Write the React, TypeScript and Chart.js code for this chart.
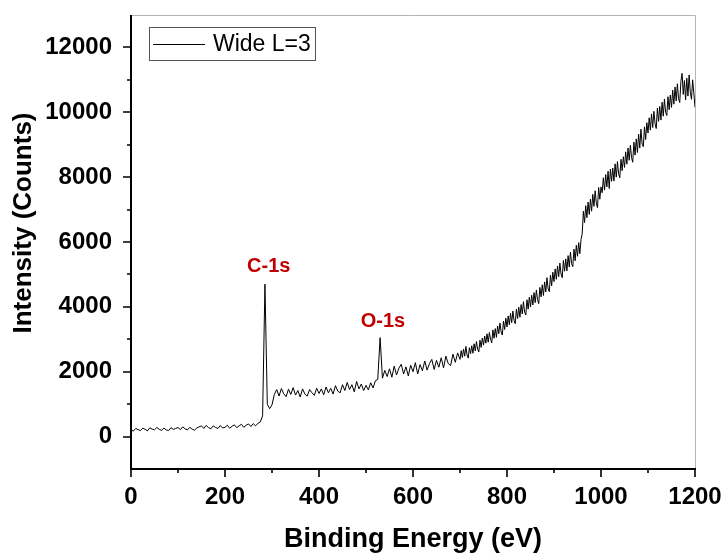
import React, { useEffect, useRef } from 'react';
import { Chart, registerables } from 'chart.js';

Chart.register(...registerables);

// ---------- data ----------
const SERIES_LABEL = 'Wide L=3';

const ENERGY = [
  0, 5, 10, 15, 20, 25, 30, 35, 40, 45,
  50, 55, 60, 65, 70, 75, 80, 85, 90, 95,
  100, 105, 110, 115, 120, 125, 130, 135, 140, 145,
  150, 155, 160, 165, 170, 175, 180, 185, 190, 195,
  200, 205, 210, 215, 220, 225, 230, 235, 240, 245,
  250, 255, 260, 265, 270, 275, 280, 285, 290, 295,
  300, 305, 310, 315, 320, 325, 330, 335, 340, 345,
  350, 355, 360, 365, 370, 375, 380, 385, 390, 395,
  400, 405, 410, 415, 420, 425, 430, 435, 440, 445,
  450, 455, 460, 465, 470, 475, 480, 485, 490, 495,
  500, 505, 510, 515, 520, 525, 530, 535, 540, 545,
  550, 555, 560, 565, 570, 575, 580, 585, 590, 595,
  600, 605, 610, 615, 620, 625, 630, 635, 640, 645,
  650, 655, 660, 665, 670, 675, 680, 685, 690, 695,
  700, 702.5, 705, 707.5, 710, 712.5, 715, 717.5, 720, 722.5,
  725, 727.5, 730, 732.5, 735, 737.5, 740, 742.5, 745, 747.5,
  750, 752.5, 755, 757.5, 760, 762.5, 765, 767.5, 770, 772.5,
  775, 777.5, 780, 782.5, 785, 787.5, 790, 792.5, 795, 797.5,
  800, 802.5, 805, 807.5, 810, 812.5, 815, 817.5, 820, 822.5,
  825, 827.5, 830, 832.5, 835, 837.5, 840, 842.5, 845, 847.5,
  850, 852.5, 855, 857.5, 860, 862.5, 865, 867.5, 870, 872.5,
  875, 877.5, 880, 882.5, 885, 887.5, 890, 892.5, 895, 897.5,
  900, 902.5, 905, 907.5, 910, 912.5, 915, 917.5, 920, 922.5,
  925, 927.5, 930, 932.5, 935, 937.5, 940, 942.5, 945, 947.5,
  950, 952.5, 955, 957.5, 960, 962.5, 965, 967.5, 970, 972.5,
  975, 977.5, 980, 982.5, 985, 987.5, 990, 992.5, 995, 997.5,
  1000, 1002.5, 1005, 1007.5, 1010, 1012.5, 1015, 1017.5, 1020, 1022.5,
  1025, 1027.5, 1030, 1032.5, 1035, 1037.5, 1040, 1042.5, 1045, 1047.5,
  1050, 1052.5, 1055, 1057.5, 1060, 1062.5, 1065, 1067.5, 1070, 1072.5,
  1075, 1077.5, 1080, 1082.5, 1085, 1087.5, 1090, 1092.5, 1095, 1097.5,
  1100, 1102.5, 1105, 1107.5, 1110, 1112.5, 1115, 1117.5, 1120, 1122.5,
  1125, 1127.5, 1130, 1132.5, 1135, 1137.5, 1140, 1142.5, 1145, 1147.5,
  1150, 1152.5, 1155, 1157.5, 1160, 1162.5, 1165, 1167.5, 1170, 1172.5,
  1175, 1177.5, 1180, 1182.5, 1185, 1187.5, 1190, 1192.5, 1195, 1197.5,
  1200,
];

const INTENSITY = [
  200, 170, 250, 215, 185, 260, 225, 175, 270, 230,
  210, 280, 225, 190, 265, 205, 185, 275, 220, 250,
  280, 215, 300, 240, 205, 285, 230, 195, 265, 300,
  330, 250, 345, 275, 240, 330, 280, 250, 340, 265,
  285, 350, 255, 320, 360, 275, 330, 380, 285, 350,
  390, 310, 400, 330, 410, 450, 640, 4700, 1000, 860,
  980, 1300, 1450, 1250, 1480, 1320, 1230, 1460, 1300, 1510,
  1280, 1420, 1220, 1470, 1310, 1250, 1450, 1350, 1270, 1490,
  1330, 1470, 1290, 1530, 1350, 1490, 1310, 1570, 1400, 1350,
  1600, 1420, 1670, 1450, 1600, 1380, 1700, 1470, 1620, 1420,
  1580, 1440, 1660, 1500, 1720, 1760, 3050, 1800, 2040, 1850,
  2090, 1830, 2170, 1900, 2110, 2230, 1930, 2150, 1870, 2200,
  2000, 2280, 1930, 2220, 2030, 2330, 2050, 2250, 2380, 2070,
  2350, 2140, 2430, 2120, 2480, 2250, 2190, 2540, 2290, 2580,
  2380, 2650, 2440, 2700, 2480, 2780, 2520, 2420, 2740, 2560,
  2800, 2570, 2860, 2640, 2930, 2700, 2610, 2970, 2750, 3040,
  2820, 3100, 2880, 3170, 2910, 3210, 3000, 2890, 3290, 3030,
  3330, 3060, 3410, 3170, 3500, 3230, 3130, 3560, 3300, 3650,
  3380, 3720, 3450, 3800, 3510, 3870, 3580, 3480, 3930, 3640,
  3990, 3680, 4070, 3780, 4160, 3840, 3750, 4220, 3930, 4300,
  4000, 4360, 4060, 4440, 4130, 4520, 4220, 4100, 4600, 4310,
  4680, 4350, 4770, 4460, 4900, 4550, 4470, 4980, 4650, 5070,
  4780, 5170, 4850, 5260, 4930, 5350, 5010, 4900, 5430, 5100,
  5480, 5110, 5580, 5230, 5690, 5330, 5240, 5780, 5420, 5900,
  5560, 5980, 5640, 6080, 6250, 6950, 6600, 7120, 6750, 7230,
  6850, 7320, 6950, 7470, 7100, 7580, 7200, 7060, 7680, 7320,
  7700, 7520, 7980, 7600, 8080, 7700, 8180, 7650, 8250, 7870,
  8280, 7880, 8410, 8000, 8480, 8100, 7980, 8550, 8200, 8630,
  8300, 8780, 8400, 8900, 8520, 8980, 8600, 8460, 9080, 8680,
  9180, 8760, 9330, 8900, 9480, 9020, 8940, 9550, 9160, 9680,
  9360, 9830, 9450, 9950, 9530, 10030, 9650, 9500, 10130, 9720,
  10180, 9760, 10310, 9880, 10410, 10000, 9900, 10480, 10080, 10530,
  10150, 10680, 10250, 10780, 10350, 10880, 10420, 10300, 10950, 11200,
  10550, 10980, 10380, 11050, 10500, 11150, 10620, 10400, 11000, 10600,
  10150,
];

const X_TICKS = [0, 200, 400, 600, 800, 1000, 1200];
const X_MINOR = [100, 300, 500, 700, 900, 1100];
const Y_TICKS = [0, 2000, 4000, 6000, 8000, 10000, 12000];
const Y_MINOR = [1000, 3000, 5000, 7000, 9000, 11000];
const X_RANGE = [0, 1200];
const Y_RANGE = [-1000, 13000];

const PEAK_LABELS = ['C-1s', 'O-1s'];
const PEAK_LABEL_X = [293, 536];
const PEAK_LABEL_Y = [5250, 3560];

const X_TITLE = 'Binding Energy (eV)';
const Y_TITLE = 'Intensity (Counts)';

const FONT = "'Liberation Sans', Arial, sans-serif";

const decorPlugin = {
  id: 'decor',
  afterDraw(chart: any) {
    const { ctx, chartArea } = chart;
    const xs = chart.scales.x;
    const ys = chart.scales.y;
    const { left, right, top, bottom } = chartArea;
    ctx.save();

    // top & right frame (light gray)
    ctx.strokeStyle = '#b4b4b4';
    ctx.lineWidth = 1;
    ctx.beginPath();
    ctx.moveTo(left, top + 0.5);
    ctx.lineTo(right + 0.5, top + 0.5);
    ctx.lineTo(right + 0.5, bottom);
    ctx.stroke();

    // left & bottom axes (black, thick)
    ctx.strokeStyle = '#000';
    ctx.lineWidth = 2;
    ctx.beginPath();
    ctx.moveTo(left, top);
    ctx.lineTo(left, bottom);
    ctx.lineTo(right + 1, bottom);
    ctx.stroke();

    // ticks
    ctx.lineWidth = 1.6;
    ctx.beginPath();
    X_TICKS.forEach((v) => {
      const px = Math.round(xs.getPixelForValue(v));
      ctx.moveTo(px, bottom);
      ctx.lineTo(px, bottom + 8);
    });
    X_MINOR.forEach((v) => {
      const px = Math.round(xs.getPixelForValue(v));
      ctx.moveTo(px, bottom);
      ctx.lineTo(px, bottom + 4);
    });
    Y_TICKS.forEach((v) => {
      const py = Math.round(ys.getPixelForValue(v));
      ctx.moveTo(left, py);
      ctx.lineTo(left - 8, py);
    });
    Y_MINOR.forEach((v) => {
      const py = Math.round(ys.getPixelForValue(v));
      ctx.moveTo(left, py);
      ctx.lineTo(left - 4, py);
    });
    ctx.stroke();

    // legend
    ctx.strokeStyle = '#555';
    ctx.lineWidth = 1;
    ctx.strokeRect(149.5, 27.5, 166, 33);
    ctx.strokeStyle = '#000';
    ctx.beginPath();
    ctx.moveTo(153, 44.5);
    ctx.lineTo(205, 44.5);
    ctx.stroke();
    ctx.fillStyle = '#000';
    ctx.font = `23px ${FONT}`;
    ctx.textAlign = 'left';
    ctx.textBaseline = 'middle';
    ctx.fillText(chart.data.datasets[0].label, 213, 45);

    // peak labels
    ctx.fillStyle = '#c00000';
    ctx.font = `bold 20px ${FONT}`;
    ctx.textAlign = 'center';
    ctx.textBaseline = 'middle';
    PEAK_LABELS.forEach((t, i) => {
      ctx.fillText(t, xs.getPixelForValue(PEAK_LABEL_X[i]), ys.getPixelForValue(PEAK_LABEL_Y[i]));
    });

    // axis titles
    ctx.fillStyle = '#000';
    ctx.font = `bold 27px ${FONT}`;
    ctx.textAlign = 'center';
    ctx.textBaseline = 'alphabetic';
    ctx.fillText(X_TITLE, (left + right) / 2, 547);
    ctx.translate(31, 223);
    ctx.rotate(-Math.PI / 2);
    ctx.font = `bold 26px ${FONT}`;
    ctx.fillText(Y_TITLE, 0, 0);

    ctx.restore();
  },
};

const zeroPad = (s: any) => {
  s.paddingTop = 0;
  s.paddingBottom = 0;
  s.paddingLeft = 0;
  s.paddingRight = 0;
};

export default function App() {
  const ref = useRef<HTMLCanvasElement | null>(null);

  useEffect(() => {
    if (!ref.current) return;
    const points = ENERGY.map((e, i) => ({ x: e, y: INTENSITY[i] }));
    const chart = new Chart(ref.current, {
      type: 'line',
      data: {
        datasets: [
          {
            label: SERIES_LABEL,
            data: points,
            borderColor: '#000',
            borderWidth: 1,
            pointRadius: 0,
            tension: 0,
            fill: false,
          },
        ],
      },
      options: {
        responsive: false,
        animation: false,
        devicePixelRatio: 1,
        layout: { padding: { left: 0, top: 15, right: 31, bottom: 0 } },
        plugins: {
          legend: { display: false },
          tooltip: { enabled: false },
        },
        scales: {
          x: {
            type: 'linear',
            min: X_RANGE[0],
            max: X_RANGE[1],
            grid: { display: false, drawTicks: false },
            border: { display: false },
            afterBuildTicks: (s: any) => {
              s.ticks = X_TICKS.map((v) => ({ value: v }));
            },
            afterFit: (s: any) => {
              s.height = 85;
              zeroPad(s);
            },
            ticks: {
              autoSkip: false,
              maxRotation: 0,
              padding: 14,
              color: '#000',
              font: { family: FONT, size: 24, weight: 'bold' },
              callback: (v: any) => String(v),
            },
          },
          y: {
            type: 'linear',
            min: Y_RANGE[0],
            max: Y_RANGE[1],
            grid: { display: false, drawTicks: false },
            border: { display: false },
            afterBuildTicks: (s: any) => {
              s.ticks = Y_TICKS.map((v) => ({ value: v }));
            },
            afterFit: (s: any) => {
              s.width = 131;
              zeroPad(s);
            },
            ticks: {
              autoSkip: false,
              padding: 19,
              color: '#000',
              font: { family: FONT, size: 24, weight: 'bold' },
              callback: (v: any) => String(v),
            },
          },
        },
      },
      plugins: [decorPlugin],
    });
    return () => chart.destroy();
  }, []);

  return (
    <div style={{ position: 'fixed', left: 0, top: 0, width: 726, height: 554, background: '#fff' }}>
      <canvas ref={ref} width={726} height={554} style={{ width: 726, height: 554 }} />
    </div>
  );
}
